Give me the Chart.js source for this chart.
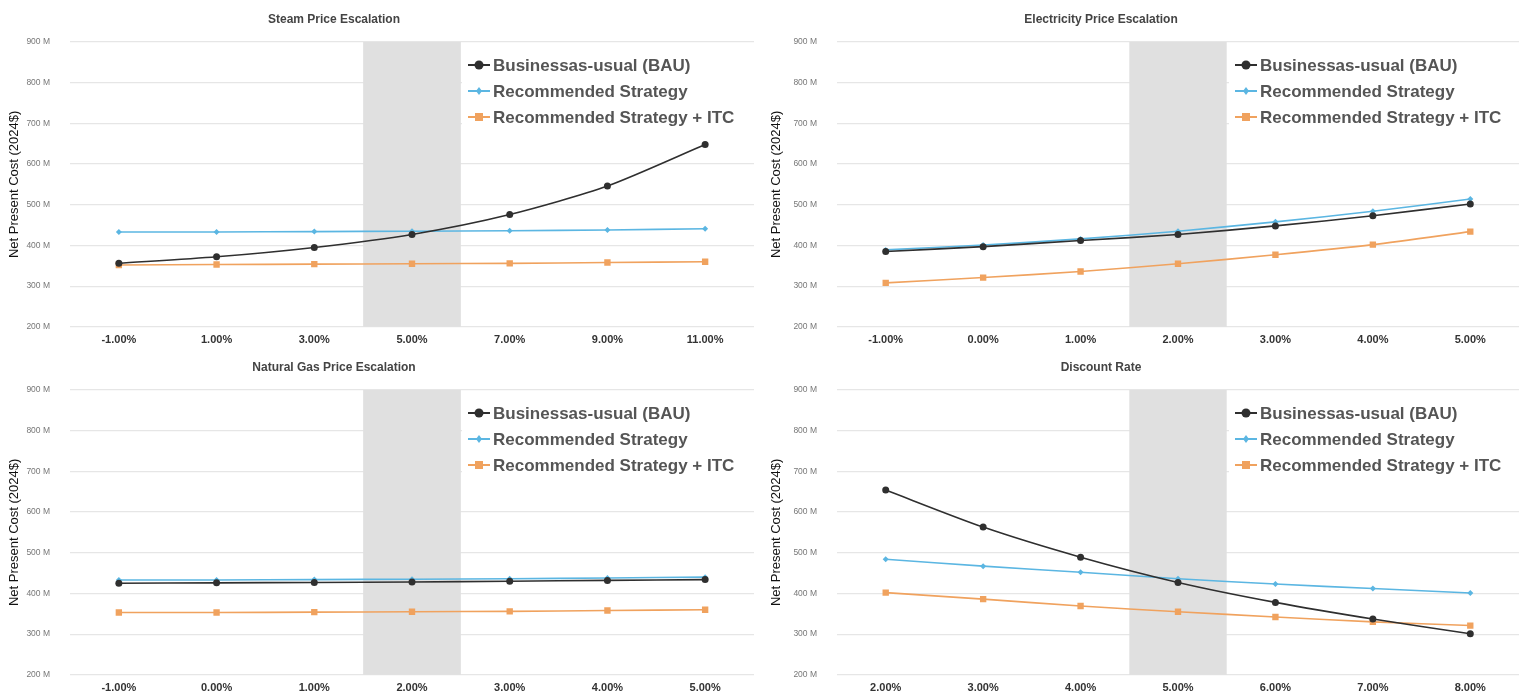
<!DOCTYPE html>
<html>
<head>
<meta charset="utf-8">
<script src="https://cdn.jsdelivr.net/npm/chart.js@4.4.1/dist/chart.umd.min.js"></script>
<style>
  body { margin: 0; background: #fff; overflow: hidden; }
  #wrap { position: relative; width: 1525px; height: 696px; overflow: hidden; }
  canvas { position: absolute; }
</style>
</head>
<body>
<div id="wrap">
  <canvas id="steam" width="760" height="354" style="left:0;top:0"></canvas>
  <canvas id="elec" width="763" height="354" style="left:762px;top:0"></canvas>
  <canvas id="gas" width="760" height="354" style="left:0;top:348px"></canvas>
  <canvas id="disc" width="763" height="354" style="left:762px;top:348px"></canvas>
</div>
<script>
// series names
const seriesNames = ["Businessas-usual (BAU)", "Recommended Strategy", "Recommended Strategy + ITC"];

// Steam Price Escalation
const steamLabels = ["-1.00%", "1.00%", "3.00%", "5.00%", "7.00%", "9.00%", "11.00%"];
const steamBau = [356, 372, 395, 427, 476, 546, 648];
const steamRec = [433, 433, 434, 435, 436, 438, 441];
const steamItc = [352, 353, 354, 355, 356, 358, 360];

// Electricity Price Escalation
const elecLabels = ["-1.00%", "0.00%", "1.00%", "2.00%", "3.00%", "4.00%", "5.00%"];
const elecBau = [385, 397, 412, 427, 448, 473, 502];
const elecRec = [389, 401, 416, 435, 458, 484, 514];
const elecItc = [308, 321, 336, 355, 377, 402, 434];

// Natural Gas Price Escalation
const gasLabels = ["-1.00%", "0.00%", "1.00%", "2.00%", "3.00%", "4.00%", "5.00%"];
const gasBau = [425, 426, 427, 428, 430, 432, 434];
const gasRec = [433, 433, 434, 435, 436, 438, 440];
const gasItc = [353, 353, 354, 355, 356, 358, 360];

// Discount Rate
const discLabels = ["2.00%", "3.00%", "4.00%", "5.00%", "6.00%", "7.00%", "8.00%"];
const discBau = [654, 563, 489, 427, 378, 337, 301];
const discRec = [484, 467, 452, 436, 423, 412, 401];
const discItc = [402, 386, 369, 355, 342, 330, 321];

// base case category (shaded band)
const baseCase = { steam: "5.00%", elec: "2.00%", gas: "2.00%", disc: "5.00%" };

const yTicks = { min: 200, max: 900, step: 100 };

const FONT = "'Liberation Sans', Arial, sans-serif";
const colors = ["#2f2f2f", "#5bb6e2", "#f0a25e"];
const styles = ["circle", "rectRot", "rect"];
const radii = [3.5, 3, 4.5];

// grey band behind the lines for the base case
const bandPlugin = {
  id: "band",
  beforeDatasetsDraw(chart, args, opts) {
    const x = chart.scales.x, area = chart.chartArea;
    const i = chart.data.labels.indexOf(opts.label);
    if (i < 0) return;
    const w = x.getPixelForValue(1) - x.getPixelForValue(0);
    const c = x.getPixelForValue(i);
    const ctx = chart.ctx;
    ctx.save();
    ctx.fillStyle = "#e0e0e0";
    ctx.fillRect(c - w / 2, area.top, w, area.bottom - area.top);
    ctx.restore();
  }
};

// chart heading, offset like in the original
const headPlugin = {
  id: "head",
  afterDraw(chart, args, opts) {
    const ctx = chart.ctx;
    ctx.save();
    ctx.font = "bold 12px " + FONT;
    ctx.fillStyle = "#444";
    ctx.textAlign = "center";
    ctx.textBaseline = "middle";
    ctx.fillText(opts.text, chart.chartArea.left + 264, 20);
    ctx.restore();
  }
};

// legend sitting inside the plot, top right
const boxLegend = {
  id: "boxLegend",
  afterDatasetsDraw(chart) {
    const ctx = chart.ctx, area = chart.chartArea;
    const x0 = area.left + 398;
    const tx = area.left + 423;
    ctx.save();
    ctx.fillStyle = "#fff";
    ctx.fillRect(area.left + 392, area.top + 8, 292, 80);
    ctx.font = "bold 17px " + FONT;
    ctx.textBaseline = "middle";
    chart.data.datasets.forEach((ds, k) => {
      const y = area.top + 23 + k * 26;
      ctx.strokeStyle = ds.borderColor;
      ctx.lineWidth = 2;
      ctx.beginPath();
      ctx.moveTo(x0, y);
      ctx.lineTo(x0 + 22, y);
      ctx.stroke();
      ctx.fillStyle = ds.borderColor;
      const cx = x0 + 11;
      ctx.beginPath();
      if (k == 0) ctx.arc(cx, y, 4.5, 0, Math.PI * 2);
      else if (k == 1) { ctx.moveTo(cx, y - 4); ctx.lineTo(cx + 3, y); ctx.lineTo(cx, y + 4); ctx.lineTo(cx - 3, y); ctx.closePath(); }
      else ctx.rect(cx - 4, y - 4, 8, 8);
      ctx.fill();
      ctx.fillStyle = "#555";
      ctx.fillText(ds.label, tx, y + 1);
    });
    ctx.restore();
  }
};

function makeChart(id, title, labels, bau, rec, itc, axisWidth) {
  const ctx = document.getElementById(id).getContext("2d");
  const data = [bau, rec, itc];
  return new Chart(ctx, {
    type: "line",
    data: {
      labels: labels,
      datasets: data.map((d, k) => ({
        label: seriesNames[k],
        data: d,
        borderColor: colors[k],
        backgroundColor: colors[k],
        borderWidth: 1.6,
        pointStyle: styles[k],
        pointRadius: radii[k],
        pointBorderWidth: 0,
        tension: 0.25,
        fill: false
      }))
    },
    plugins: [bandPlugin, headPlugin, boxLegend],
    options: {
      responsive: false,
      animation: false,
      layout: { padding: { top: 42, right: 6, left: 0, bottom: 0 } },
      plugins: {
        legend: { display: false },
        tooltip: { enabled: false },
        band: { label: baseCase[id] },
        head: { text: title }
      },
      scales: {
        x: {
          offset: true,
          grid: { display: false, drawTicks: false },
          border: { display: false },
          ticks: { color: "#333", font: { family: FONT, size: 11, weight: "bold" }, padding: 7, maxRotation: 0 }
        },
        y: {
          min: yTicks.min,
          max: yTicks.max,
          grid: { color: "#e6e6e6", lineWidth: 1.2, drawTicks: false },
          border: { display: false },
          ticks: {
            stepSize: yTicks.step,
            padding: 20,
            color: "#777",
            font: { family: FONT, size: 8.5 },
            callback: (v) => v + " M"
          },
          title: {
            display: true,
            text: "Net Present Cost (2024$)",
            color: "#111",
            font: { family: FONT, size: 13 },
            padding: { top: 7, bottom: 0 }
          },
          afterFit: (s) => { s.width = axisWidth; }
        }
      }
    }
  });
}

makeChart("steam", "Steam Price Escalation", steamLabels, steamBau, steamRec, steamItc, 70);
makeChart("elec", "Electricity Price Escalation", elecLabels, elecBau, elecRec, elecItc, 75);
makeChart("gas", "Natural Gas Price Escalation", gasLabels, gasBau, gasRec, gasItc, 70);
makeChart("disc", "Discount Rate", discLabels, discBau, discRec, discItc, 75);
</script>
</body>
</html>
